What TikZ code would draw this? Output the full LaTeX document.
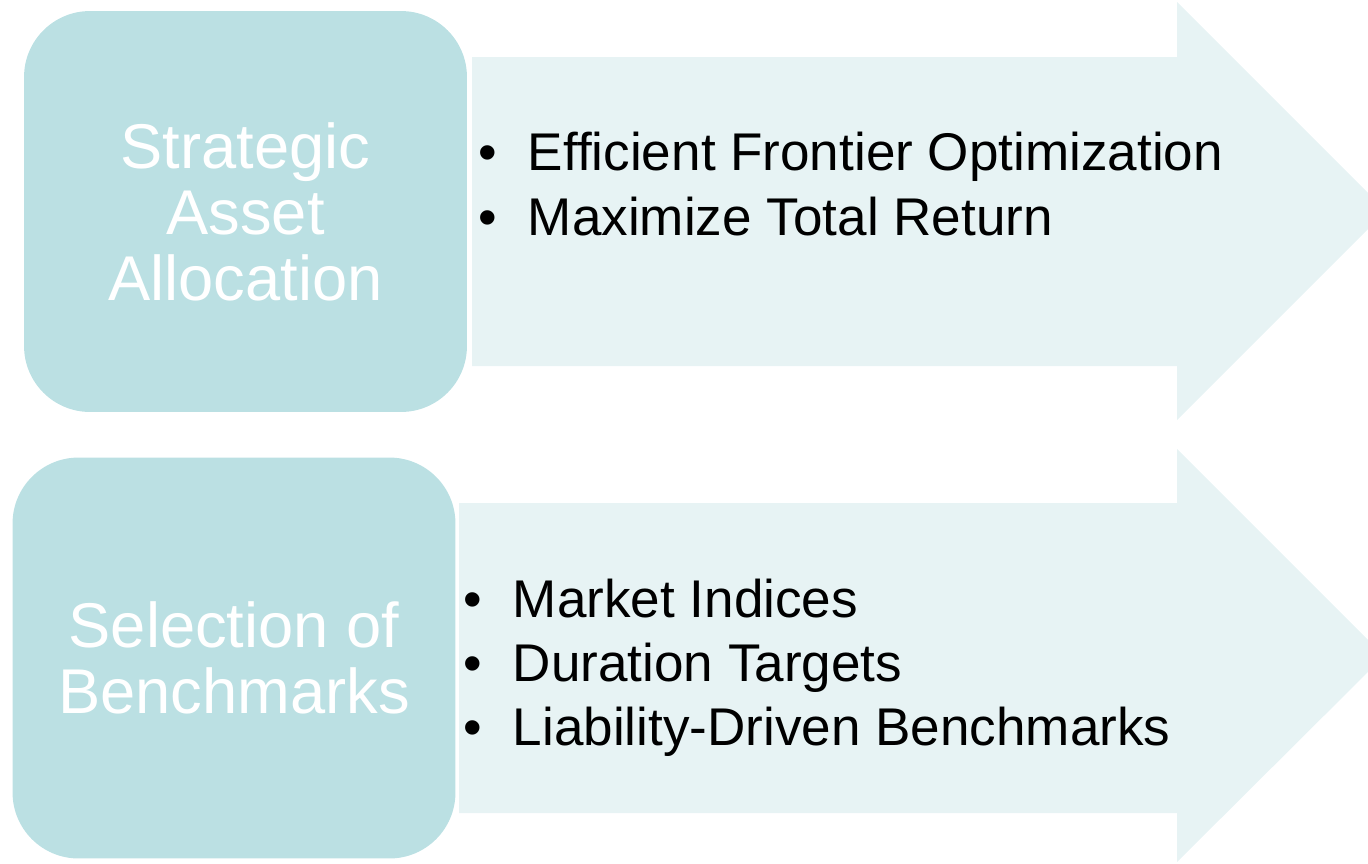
\documentclass[tikz,border=0pt]{standalone}
\usepackage{fontspec}
\setmainfont{Liberation Sans}
\usetikzlibrary{positioning}

\definecolor{stagefill}{HTML}{BBE0E3}
\definecolor{arrowfill}{HTML}{E7F3F4}

\begin{document}
\begin{tikzpicture}[
    x=0.02cm, y=-0.02cm,
    stage/.style={rectangle, rounded corners=1.32cm, fill=stagefill, text=white,
        minimum width=8.86cm, minimum height=8.02cm, align=center,
        font=\fontsize{36}{37.6}\selectfont},
    item/.style={anchor=base west, inner sep=0pt, font=\fontsize{30.2}{32}\selectfont},
    bigarrow/.style={fill=arrowfill, draw=none}
]
\useasboundingbox (0,0) rectangle (1368,863);
\clip (0,0) rectangle (1368,863);

% Arrows behind the boxes
\fill[bigarrow] (472,57) -- (1177,57) -- (1177,2) -- (1386,211)
    -- (1177,420) -- (1177,366) -- (472,366) -- cycle;
\fill[bigarrow] (459,503) -- (1177,503) -- (1177,449) -- (1384,656)
    -- (1177,862) -- (1177,813) -- (459,813) -- cycle;

% Stages
\node[stage] (saa) at (245.5,211.5) {Strategic\\Asset\\Allocation};
\node[stage] (sob) at (234,658) {Selection of\\Benchmarks};

% Bullet points
\node[item] (eff) at (478,170) {\textbullet\hspace{0.62cm}Efficient Frontier Optimization};
\node[item] (max) at (478,235) {\textbullet\hspace{0.62cm}Maximize Total Return};
\node[item] (mkt) at (463,617) {\textbullet\hspace{0.62cm}Market Indices};
\node[item] (dur) at (463,681) {\textbullet\hspace{0.62cm}Duration Targets};
\node[item] (ldb) at (463,745) {\textbullet\hspace{0.62cm}Liability-Driven Benchmarks};

\end{tikzpicture}
\end{document}
